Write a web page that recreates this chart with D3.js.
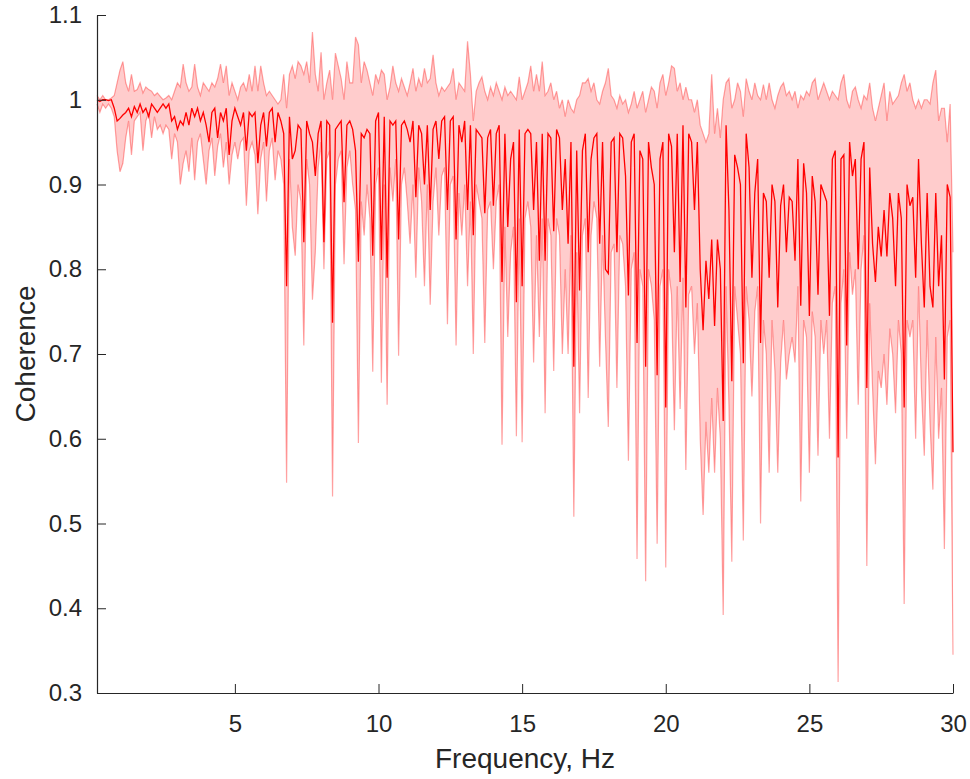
<!DOCTYPE html>
<html lang="en">
<head>
<meta charset="UTF-8">
<title>Coherence</title>
<script src="https://d3js.org/d3.v7.min.js"></script>
<style>
  body { margin: 0; background: #fff; }
  text { font-family: "Liberation Sans", Arial, sans-serif; fill: #262626; }
  .band { fill: #ff0000; fill-opacity: .2; stroke: none; }
  .edge { fill: none; stroke: #ff0000; stroke-opacity: .35; stroke-width: 1.2; }
  .mean { fill: none; stroke: #ff0000; stroke-width: 1.3; }
  .axis path, .axis line { stroke: #262626; }
</style>
</head>
<body>
<script>
  const width = 970;
  const height = 779;
  const margin = {top: 15, right: 17, bottom: 86, left: 97};

  // frequency grid, Hz
  const freqStart = 0.2;
  const freqStep = 0.1;

  // mean coherence
  const meanCoh = [
    1.0, 0.998, 1.0, 1.0, 0.999, 1.0, 0.99, 0.975, 0.978, 0.982,
    0.985, 0.99, 0.98, 0.992, 0.985, 0.995, 0.985, 0.99, 0.98, 0.995,
    0.99, 0.985, 0.99, 0.995, 0.99, 0.995, 0.975, 0.98, 0.965, 0.975,
    0.97, 0.985, 0.97, 0.99, 0.98, 0.99, 0.975, 0.985, 0.97, 0.95,
    0.985, 0.99, 0.955, 0.985, 0.975, 0.99, 0.935, 0.975, 0.99, 0.98,
    0.97, 0.985, 0.94, 0.985, 0.98, 0.985, 0.925, 0.97, 0.985, 0.945,
    0.985, 0.99, 0.95, 0.985, 0.975, 0.96, 0.78, 0.98, 0.93, 0.94,
    0.97, 0.965, 0.832, 0.975, 0.96, 0.95, 0.91, 0.96, 0.975, 0.832,
    0.975, 0.97, 0.737, 0.965, 0.97, 0.975, 0.879, 0.97, 0.975, 0.965,
    0.94, 0.809, 0.96, 0.955, 0.965, 0.96, 0.816, 0.975, 0.985, 0.811,
    0.98, 0.79, 0.975, 0.97, 0.975, 0.835, 0.97, 0.975, 0.965, 0.95,
    0.975, 0.885, 0.97, 0.96, 0.9, 0.97, 0.87, 0.965, 0.975, 0.93,
    0.975, 0.98, 0.87, 0.975, 0.98, 0.835, 0.97, 0.95, 0.975, 0.87,
    0.97, 0.84, 0.965, 0.96, 0.955, 0.866, 0.955, 0.965, 0.875, 0.96,
    0.97, 0.785, 0.96, 0.85, 0.93, 0.95, 0.761, 0.965, 0.78, 0.96,
    0.965, 0.96, 0.87, 0.95, 0.81, 0.96, 0.81, 0.96, 0.955, 0.845,
    0.965, 0.955, 0.87, 0.93, 0.83, 0.95, 0.685, 0.94, 0.775, 0.94,
    0.96, 0.82, 0.93, 0.955, 0.96, 0.83, 0.95, 0.80, 0.795, 0.95,
    0.955, 0.82, 0.96, 0.955, 0.91, 0.769, 0.95, 0.96, 0.713, 0.94,
    0.93, 0.685, 0.95, 0.92, 0.90, 0.675, 0.93, 0.95, 0.637, 0.96,
    0.945, 0.82, 0.96, 0.785, 0.97, 0.755, 0.96, 0.95, 0.87, 0.95,
    0.80, 0.728, 0.81, 0.765, 0.835, 0.733, 0.835, 0.80, 0.621, 0.97,
    0.87, 0.668, 0.935, 0.92, 0.90, 0.689, 0.96, 0.92, 0.79, 0.89,
    0.93, 0.713, 0.89, 0.88, 0.79, 0.90, 0.88, 0.755, 0.875, 0.90,
    0.82, 0.885, 0.88, 0.81, 0.93, 0.757, 0.925, 0.89, 0.745, 0.91,
    0.88, 0.77, 0.90, 0.89, 0.88, 0.745, 0.93, 0.94, 0.578, 0.93,
    0.935, 0.71, 0.95, 0.91, 0.93, 0.80, 0.93, 0.95, 0.66, 0.92,
    0.83, 0.785, 0.85, 0.815, 0.87, 0.815, 0.89, 0.86, 0.78, 0.89,
    0.86, 0.637, 0.90, 0.875, 0.885, 0.79, 0.93, 0.83, 0.755, 0.89,
    0.78, 0.755, 0.89, 0.78, 0.84, 0.67, 0.90, 0.885, 0.584
  ];

  // lower edge of the shaded band
  const lowerCoh = [
    0.995, 0.985, 0.995, 0.99, 0.995, 0.99, 0.98, 0.94, 0.915, 0.925,
    0.955, 0.975, 0.935, 0.975, 0.98, 0.985, 0.94, 0.975, 0.985, 0.955,
    0.98, 0.965, 0.97, 0.96, 0.97, 0.965, 0.93, 0.96, 0.95, 0.9,
    0.925, 0.94, 0.915, 0.955, 0.905, 0.95, 0.96, 0.93, 0.9, 0.94,
    0.955, 0.91, 0.945, 0.96, 0.92, 0.95, 0.9, 0.935, 0.95, 0.93,
    0.95, 0.955, 0.875, 0.94, 0.95, 0.935, 0.865, 0.93, 0.95, 0.88,
    0.94, 0.955, 0.905, 0.94, 0.93, 0.9, 0.548, 0.93, 0.85, 0.816,
    0.9, 0.88, 0.71, 0.93, 0.9, 0.764, 0.82, 0.92, 0.95, 0.8,
    0.93, 0.94, 0.532, 0.9, 0.93, 0.94, 0.806, 0.92, 0.94, 0.9,
    0.87, 0.595, 0.88, 0.84, 0.9, 0.86, 0.679, 0.9, 0.92, 0.666,
    0.9, 0.64, 0.92, 0.88, 0.93, 0.698, 0.9, 0.92, 0.88, 0.83,
    0.9, 0.79, 0.92, 0.88, 0.78, 0.9, 0.758, 0.88, 0.92, 0.84,
    0.91, 0.92, 0.735, 0.9, 0.91, 0.71, 0.89, 0.84, 0.9, 0.78,
    0.88, 0.70, 0.9, 0.88, 0.86, 0.713, 0.87, 0.88, 0.80, 0.88,
    0.9, 0.593, 0.85, 0.72, 0.82, 0.85, 0.603, 0.86, 0.596, 0.86,
    0.88, 0.85, 0.69, 0.84, 0.72, 0.86, 0.63, 0.86, 0.84, 0.68,
    0.86, 0.84, 0.70, 0.8, 0.70, 0.84, 0.508, 0.82, 0.63, 0.84,
    0.86, 0.648, 0.84, 0.88, 0.86, 0.685, 0.84, 0.72, 0.614, 0.82,
    0.83, 0.66, 0.84, 0.83, 0.78, 0.574, 0.8, 0.82, 0.458, 0.8,
    0.78, 0.432, 0.8, 0.78, 0.74, 0.476, 0.78, 0.8, 0.448, 0.8,
    0.77, 0.61, 0.78, 0.635, 0.79, 0.563, 0.77, 0.78, 0.7, 0.76,
    0.6, 0.51, 0.62, 0.56, 0.648, 0.56, 0.66, 0.6, 0.392, 0.78,
    0.64, 0.455, 0.78, 0.74, 0.7, 0.48, 0.78, 0.74, 0.65, 0.75,
    0.78, 0.50, 0.74, 0.7, 0.56, 0.74, 0.68, 0.56, 0.69, 0.74,
    0.67, 0.7, 0.72, 0.69, 0.78, 0.526, 0.74, 0.72, 0.56, 0.75,
    0.72, 0.58, 0.74, 0.7, 0.74, 0.60, 0.76, 0.78, 0.313, 0.76,
    0.8, 0.6, 0.82, 0.77, 0.8, 0.64, 0.8, 0.84, 0.45, 0.76,
    0.66, 0.57, 0.68, 0.66, 0.7, 0.64, 0.73, 0.7, 0.63, 0.74,
    0.7, 0.405, 0.74, 0.72, 0.74, 0.6, 0.78, 0.66, 0.58, 0.74,
    0.62, 0.54, 0.72, 0.6, 0.66, 0.47, 0.72, 0.74, 0.345
  ];

  // upper edge of the shaded band
  const upperCoh = [
    1.005, 1.0, 1.005, 1.0, 1.0, 1.002, 1.005, 1.02, 1.035, 1.045,
    1.02, 1.01, 1.03, 1.01, 1.012, 1.02, 1.008, 1.015, 1.012, 1.01,
    1.005, 1.008, 1.004, 1.0, 1.002, 1.005, 1.0, 1.01, 1.02, 1.015,
    1.042, 1.02, 1.01, 1.015, 1.042, 1.015, 1.005, 1.02, 1.015, 1.01,
    1.02, 1.015, 1.025, 1.042, 1.02, 1.04, 1.005, 1.02, 1.01, 1.0,
    1.015, 1.02, 1.01, 1.03, 1.01, 1.04, 1.01, 1.04, 1.02, 1.005,
    1.01, 1.005, 1.0, 0.995, 1.0, 1.03, 0.99, 1.03, 1.04, 1.025,
    1.045, 1.04, 1.03, 1.045, 1.02, 1.08, 1.03, 1.01, 1.056, 1.0,
    1.02, 1.035, 1.0, 1.055, 1.04, 1.025, 1.0, 1.045, 1.02, 1.02,
    1.074, 1.065, 1.02, 1.045, 1.035, 1.02, 1.005, 1.03, 1.02, 1.035,
    1.03, 1.0, 1.015, 1.04, 1.02, 1.01, 1.025, 1.015, 1.005, 1.02,
    1.037, 1.01, 1.025, 1.015, 1.037, 1.02, 1.025, 1.053, 1.02, 1.005,
    1.015, 1.01, 1.015, 1.02, 1.037, 1.0, 1.02, 1.015, 1.01, 1.069,
    1.03, 0.975, 1.01, 1.02, 1.027, 1.01, 1.0, 1.015, 1.005, 1.02,
    1.01, 1.0, 1.015, 1.005, 1.01, 1.005, 1.0, 1.027, 1.0, 1.01,
    1.02, 1.04, 1.01, 1.03, 1.01, 1.045, 1.005, 1.01, 1.02, 1.0,
    1.01, 0.99, 1.0, 0.98, 1.0, 0.99, 0.985, 1.0, 1.005, 1.02,
    1.02, 1.025, 1.01, 1.02, 1.0, 0.995, 1.01, 1.02, 1.037, 1.005,
    1.0, 0.99, 1.005, 0.995, 1.0, 0.985, 0.995, 1.01, 0.99, 1.0,
    1.01, 0.985, 1.0, 1.015, 1.01, 0.99, 1.02, 1.03, 1.005, 1.02,
    1.04, 1.037, 1.01, 1.02, 1.0, 1.015, 1.0, 1.0, 0.985, 1.0,
    0.97, 0.96, 0.95, 0.96, 1.03, 0.96, 0.99, 0.955, 1.0, 1.02,
    1.025, 0.99, 1.0, 1.02, 1.01, 0.98, 1.025, 1.01, 1.0, 1.02,
    1.005, 1.0, 1.018, 1.0, 1.02, 1.0, 0.99, 1.005, 1.015, 1.02,
    1.005, 1.01, 1.0, 1.01, 0.99, 1.005, 1.0, 1.01, 1.005, 1.02,
    1.025, 1.0, 1.01, 1.02, 1.01, 1.0, 1.01, 1.005, 1.0, 1.02,
    1.03, 1.0, 0.99, 1.01, 1.015, 1.0, 0.99, 1.005, 1.0, 1.02,
    0.99, 0.975, 0.99, 1.005, 1.02, 0.975, 1.01, 0.995, 1.0, 1.005,
    1.02, 1.03, 1.01, 1.02, 1.0, 0.99, 1.0, 0.99, 1.0, 1.0,
    0.995, 1.02, 1.035, 0.975, 0.99, 0.99, 0.95, 0.995, 0.82
  ];

  const xTicks = [5, 10, 15, 20, 25, 30];
  const yTicks = [0.3, 0.4, 0.5, 0.6, 0.7, 0.8, 0.9, 1.0, 1.1];

  const data = meanCoh.map((m, i) => ({
    f: freqStart + i * freqStep, m: m, lo: lowerCoh[i], hi: upperCoh[i]
  }));

  const svg = d3.select("body").append("svg")
      .attr("width", width).attr("height", height);

  const x = d3.scaleLinear()
      .domain([freqStart, 30])
      .range([margin.left, width - margin.right]);
  const y = d3.scaleLinear()
      .domain([0.3, 1.1])
      .range([height - margin.bottom, margin.top]);

  svg.append("path")
      .datum(data)
      .attr("class", "band")
      .attr("d", d3.area().x(d => x(d.f)).y0(d => y(d.lo)).y1(d => y(d.hi)));

  svg.append("path").datum(data).attr("class", "edge")
      .attr("d", d3.line().x(d => x(d.f)).y(d => y(d.hi)));
  svg.append("path").datum(data).attr("class", "edge")
      .attr("d", d3.line().x(d => x(d.f)).y(d => y(d.lo)));

  svg.append("path").datum(data).attr("class", "mean")
      .attr("d", d3.line().x(d => x(d.f)).y(d => y(d.m)));

  // axes, ticks inside like matlab
  const xAxis = svg.append("g")
      .attr("class", "axis")
      .attr("transform", `translate(0,${height - margin.bottom})`)
      .call(d3.axisBottom(x).tickValues(xTicks).tickSizeInner(-9).tickSizeOuter(0).tickFormat(d3.format("d")));
  xAxis.selectAll("text").attr("y", 22).style("font-size", "24px");

  const yAxis = svg.append("g")
      .attr("class", "axis")
      .attr("transform", `translate(${margin.left},0)`)
      .call(d3.axisLeft(y).tickValues(yTicks).tickSizeInner(-9).tickSizeOuter(0).tickFormat(d => d3.format("")(+d.toFixed(1))));
  yAxis.selectAll("text").attr("x", -15).style("font-size", "24px");
  svg.selectAll(".axis path").attr("stroke-width", 1.2);

  svg.append("text")
      .attr("x", (margin.left + width - margin.right) / 2)
      .attr("y", 768)
      .attr("text-anchor", "middle")
      .style("font-size", "28px")
      .text("Frequency, Hz");

  svg.append("text")
      .attr("transform", `translate(35,${(margin.top + height - margin.bottom) / 2}) rotate(-90)`)
      .attr("text-anchor", "middle")
      .style("font-size", "28px")
      .text("Coherence");
</script>
</body>
</html>
